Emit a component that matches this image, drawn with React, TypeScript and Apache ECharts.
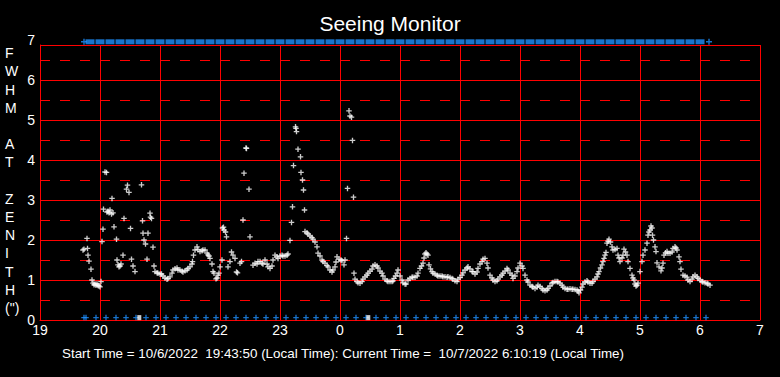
import React, { useEffect, useRef } from "react";
import * as echarts from "echarts";

// x positions are minutes after 19:00 local time
const xTickHours = [19, 20, 21, 22, 23, 0, 1, 2, 3, 4, 5, 6, 7];
const yTickLabels = ["0", "1", "2", "3", "4", "5", "6", "7"];
const yTitleLetters = ["F", "W", "H", "M", " ", "A", "T", " ", "Z", "E", "N", "I", "T", "H", "(\")"];

const seeingMinute = [
  43, 44, 47, 47.5, 48, 49, 51, 52, 53, 54, 55, 56, 57, 58, 59, 60, 61, 62, 63, 63.5, 65, 66.5, 67, 68, 69, 70, 71.5, 72, 73, 74,
  76.5, 77, 78, 79, 80, 81, 83, 84, 86.5, 87.5, 89, 90.5, 91.5, 93, 95, 101.5, 102.5, 103, 104, 105.5, 107, 108, 110, 110.5, 111.5, 113, 114, 115,
  117, 118, 120, 121.5, 123, 125, 127, 128, 130, 132, 133, 135, 137, 138, 140, 142, 143, 145, 147, 148, 150, 152, 152.5, 153.5, 155, 157, 158,
  160, 162, 163, 165, 167, 168, 169, 170, 172, 173, 174, 176, 177, 178, 179, 180, 182, 182.5, 183.5, 184, 185.5, 186.5, 188, 190, 191.5, 193,
  195, 196.5, 197.5, 200, 201.5, 203, 204, 206, 206.5, 209, 210, 213, 215, 217, 218, 220, 222, 223, 225, 227, 228, 230, 232, 233, 235, 237,
  238, 240, 242, 243, 245, 247, 248, 250, 251.5, 252.5, 253.5, 255.5, 256, 256.5, 258, 260.5, 261, 262.5, 263.5, 264.5, 265, 267, 268, 270,
  272, 273, 275, 277, 278, 280, 282, 283, 285, 287, 288, 290, 292, 293, 295, 296, 297, 299, 301, 302, 304, 305, 306.5, 307.5, 309, 310, 311.5,
  312.5, 313.5, 314, 315, 317, 318, 320, 322, 323, 325, 327, 328, 330, 332, 333, 335, 337, 338, 340, 342, 343, 345, 347, 348, 350, 352, 353,
  354, 355.5, 357, 358, 360, 362, 363, 365, 366, 368, 370, 372, 373, 375, 377, 378, 380, 381.5, 383, 384, 385, 386, 387, 388, 389, 390.5, 392,
  393, 395, 397, 398, 400, 402, 403, 405, 407, 408, 410, 412, 413, 415, 417, 418, 420, 422, 423, 425, 427, 428, 430, 432, 433, 435, 437, 438,
  440, 442, 443, 445, 447, 448, 450, 452, 453, 455, 457, 458, 460, 462, 463, 465, 467, 468, 470, 472, 473, 475, 477, 478, 480, 482, 483, 485,
  487, 488, 490, 492, 493, 495, 497, 498, 500, 502, 503, 505, 507, 508, 510, 512, 513, 515, 517, 518, 520, 522, 523, 525, 527, 528, 530, 532,
  533, 535, 537, 538, 539, 540.5, 542, 543, 545, 547, 548, 550, 552, 553, 555, 557, 558, 559, 560.5, 562, 563, 564, 565, 566, 567, 568, 569,
  570.5, 572, 573, 575, 577, 578, 579, 580, 582, 583, 584, 585.5, 587, 588, 590, 592, 593, 594, 595, 596, 597, 598, 600, 602, 603, 605, 607,
  608, 609, 610, 611, 612, 612.5, 613.5, 615, 616, 617, 619, 621, 622, 623, 624, 625.5, 627, 628, 630, 632, 633, 635, 636, 637, 639, 640,
  641, 643, 645, 647, 648, 650, 652, 653, 655, 657, 658, 660, 662, 663, 665, 667, 668, 670,
];
const seeingFwhm = [
  1.75, 1.77, 2.04, 1.79, 1.62, 1.47, 1.27, 1.0, 0.92, 0.88, 0.9, 0.87, 0.9, 0.86, 0.85, 0.83, 0.96, 1.96, 2.27, 2.77, 3.7, 3.69, 2.7, 2.72, 2.68, 2.75, 2.65, 3.04, 2.68, 2.33,
  2.02, 1.5, 1.38, 1.33, 1.35, 1.4, 1.62, 2.54, 3.27, 3.37, 3.19, 2.29, 1.52, 1.35, 1.21, 3.38, 2.48, 2.17, 2.0, 1.9, 1.52, 2.17, 2.67, 2.57, 2.54, 1.82, 1.35, 1.21,
  1.18, 1.17, 1.15, 1.15, 1.1, 1.05, 1.02, 1.04, 1.08, 1.17, 1.25, 1.28, 1.3, 1.25, 1.25, 1.22, 1.2, 1.23, 1.25, 1.29, 1.33, 1.4, 1.46, 1.62, 1.75, 1.83, 1.76,
  1.71, 1.73, 1.75, 1.75, 1.67, 1.63, 1.6, 1.54, 1.4, 1.21, 1.17, 1.03, 1.05, 1.12, 1.17, 1.33, 1.5, 2.3, 2.32, 2.25, 2.2, 2.08, 1.33, 1.46, 1.7, 1.62,
  1.54, 1.2, 1.18, 1.42, 1.46, 2.5, 3.67, 4.3, 4.29, 3.27, 2.08, 1.37, 1.42, 1.4, 1.46, 1.46, 1.42, 1.4, 1.5, 1.4, 1.33, 1.29, 1.35, 1.5, 1.62, 1.58,
  1.54, 1.6, 1.62, 1.6, 1.6, 1.62, 1.65, 1.99, 2.44, 2.83, 3.86, 4.83, 4.79, 4.71, 4.27, 4.08, 3.69, 3.5, 3.25, 2.75, 2.21, 2.18, 2.15, 2.1,
  2.06, 2.02, 1.95, 1.83, 1.67, 1.6, 1.5, 1.46, 1.42, 1.36, 1.33, 1.25, 1.2, 1.25, 1.33, 1.45, 1.58, 1.52, 1.5, 1.48, 1.38, 1.5, 2.04, 3.29, 5.23, 5.1, 5.07,
  4.49, 3.07, 1.17, 1.02, 0.96, 0.93, 0.92, 0.96, 1.02, 1.08, 1.12, 1.17, 1.22, 1.27, 1.35, 1.38, 1.35, 1.3, 1.22, 1.17, 1.1, 1.02, 0.98, 0.96, 0.96, 0.96, 0.98,
  1.04, 1.1, 1.17, 1.25, 1.1, 1.0, 0.93, 0.9, 0.9, 1.0, 1.04, 1.07, 1.07, 1.07, 1.1, 1.17, 1.29, 1.35, 1.42, 1.55, 1.65, 1.68, 1.65, 1.62, 1.38, 1.28, 1.21,
  1.17, 1.15, 1.12, 1.1, 1.1, 1.1, 1.08, 1.08, 1.07, 1.08, 1.06, 1.04, 1.02, 0.98, 0.96, 1.02, 1.06, 1.12, 1.18, 1.25, 1.3, 1.33, 1.28, 1.21, 1.21, 1.15, 1.2, 1.29,
  1.4, 1.46, 1.52, 1.54, 1.42, 1.3, 1.12, 1.05, 1.0, 0.96, 0.98, 1.02, 1.08, 1.12, 1.17, 1.22, 1.29, 1.25, 1.17, 1.12, 1.04, 1.1, 1.21, 1.3, 1.42, 1.35, 1.29, 1.12,
  1.0, 0.95, 0.87, 0.84, 0.82, 0.79, 0.82, 0.87, 0.84, 0.79, 0.75, 0.73, 0.75, 0.79, 0.85, 0.92, 0.94, 0.96, 0.96, 0.95, 0.92, 0.87, 0.82, 0.79, 0.77, 0.77, 0.78, 0.77,
  0.77, 0.76, 0.75, 0.72, 0.68, 0.75, 0.82, 0.9, 0.95, 0.98, 0.95, 0.92, 0.92, 0.96, 1.02, 1.08, 1.15, 1.21, 1.3, 1.38, 1.46, 1.54, 1.62, 1.69, 1.92, 1.97, 2.02,
  1.95, 1.83, 1.75, 1.76, 1.79, 1.62, 1.55, 1.46, 1.55, 1.62, 1.77, 1.7, 1.62, 1.46, 1.29, 1.12, 1.05, 1.0, 0.9, 0.85, 0.87, 0.92, 1.21, 1.46, 1.62, 1.75, 1.92,
  2.12, 2.2, 2.25, 2.35, 2.3, 2.12, 2.0, 1.83, 1.71, 1.43, 1.33, 1.23, 1.3, 1.42, 1.62, 1.68, 1.71, 1.67, 1.67, 1.7, 1.79, 1.83, 1.8, 1.75, 1.58, 1.46,
  1.27, 1.12, 1.1, 1.07, 1.0, 0.96, 1.02, 1.08, 1.12, 1.08, 1.04, 1.0, 0.96, 0.95, 0.93, 0.92, 0.9, 0.87,
];

// blue status marks along the top edge (10-minute blocks) and start/current markers
const topBlockMinute = [
  50, 60, 70, 80, 90, 100, 110, 120, 130, 140, 150, 160, 170, 180, 190, 200, 210, 220, 230, 240, 250, 260, 270, 280, 290, 300, 310, 320,
  330, 340, 350, 360, 370, 380, 390, 400, 410, 420, 430, 440, 450, 460, 470, 480, 490, 500, 510, 520, 530, 540, 550, 560, 570, 580, 590,
  600, 610, 620, 630, 640, 650, 660,
];
const topPlusMinute = [44, 669];
const topRowValue = 6.955;

// blue plus marks along the bottom edge
const bottomPlusMinute = [
  44, 46, 56, 66, 76, 86, 96, 106, 116, 126, 136, 146, 156, 166, 176, 186, 196, 206, 216, 226, 236, 246, 256, 266, 276, 286, 296, 306,
  316, 326, 336, 346, 356, 366, 376, 386, 396, 406, 416, 426, 436, 446, 456, 466, 476, 486, 496, 506, 516, 526, 536, 546, 556, 566, 576,
  586, 596, 606, 616, 626, 636, 646, 656, 666,
];
const bottomRowValue = 0.06;
const whiteMarkMinute = [99.3, 328.3];

const PLUS = "path://M2.2,0L3.6,0L3.6,5.8L2.2,5.8ZM0,2.2L5.8,2.2L5.8,3.6L0,3.6Z";
const RED = "#FF0000";
const BLUE = "#1E90FF";
const FONT = "'Liberation Sans', Arial, Helvetica, sans-serif";

export default function App() {
  const ref = useRef<HTMLDivElement>(null);

  useEffect(() => {
    document.body.style.margin = "0";
    document.body.style.background = "#000";
    if (!ref.current) return;
    const chart = echarts.init(ref.current, undefined, { renderer: "svg" });

    const seeingData = seeingMinute.map((m, i) => [m, seeingFwhm[i]]);

    const option: any = {
      animation: false,
      backgroundColor: "#000000",
      title: {
        text: "Seeing Monitor",
        left: "center",
        top: 8,
        textStyle: { color: "#FFFFFF", fontSize: 21, fontWeight: "normal", fontFamily: FONT },
      },
      grid: [
        { left: 40, right: 20, top: 45, bottom: 57 },
        { left: 40, right: 20, top: 40, bottom: 57 },
      ],
      xAxis: [
        {
          gridIndex: 0,
          type: "value",
          min: 0,
          max: 720,
          interval: 60,
          axisLine: { show: true, lineStyle: { color: RED, width: 1 } },
          axisTick: { show: false },
          axisLabel: {
            color: "#FFFFFF",
            fontSize: 14,
            fontFamily: FONT,
            margin: 3,
            formatter: (v: number) => String(xTickHours[Math.round(v / 60)]),
          },
          splitLine: { show: true, lineStyle: { color: RED, width: 1 } },
        },
        { gridIndex: 1, type: "value", min: 0, max: 720, interval: 60, show: false },
      ],
      yAxis: [
        {
          gridIndex: 0,
          type: "value",
          min: 0,
          max: 6.875,
          interval: 1,
          axisLine: { show: true, lineStyle: { color: RED, width: 1 } },
          axisTick: { show: false },
          axisLabel: { show: false },
          splitLine: { show: true, lineStyle: { color: RED, width: 1 } },
        },
        {
          gridIndex: 1,
          type: "value",
          min: 0,
          max: 7,
          interval: 1,
          axisLine: { show: false },
          axisTick: { show: false },
          axisLabel: {
            color: "#FFFFFF",
            fontSize: 14,
            fontFamily: FONT,
            margin: 5,
            formatter: (v: number) => yTickLabels[Math.round(v)],
          },
          splitLine: { show: false },
          minorTick: { show: false, splitNumber: 2 },
          minorSplitLine: { show: true, lineStyle: { color: RED, width: 1, type: [10, 10] } },
        },
      ],
      graphic: [
        {
          type: "text",
          left: 5,
          top: 44,
          style: {
            text: yTitleLetters.join("\n"),
            fill: "#FFFFFF",
            font: `14px ${FONT}`,
            lineHeight: 18.2,
            align: "center",
            width: 16,
          },
        },
        {
          type: "text",
          left: 62,
          top: 347,
          style: {
            text: "Start Time = 10/6/2022  19:43:50 (Local Time): Current Time =  10/7/2022 6:10:19 (Local Time)",
            fill: "#FFFFFF",
            font: `13.4px ${FONT}`,
          },
        },
      ],
      series: [
        {
          type: "scatter",
          xAxisIndex: 1,
          yAxisIndex: 1,
          symbol: "rect",
          symbolSize: [9, 5],
          itemStyle: { color: BLUE },
          data: topBlockMinute.map((m) => [m, topRowValue]),
          silent: true,
          z: 3,
        },
        {
          type: "scatter",
          xAxisIndex: 1,
          yAxisIndex: 1,
          symbol: PLUS,
          symbolSize: 6,
          itemStyle: { color: BLUE },
          data: topPlusMinute.map((m) => [m, topRowValue]),
          silent: true,
          z: 3,
        },
        {
          type: "scatter",
          xAxisIndex: 1,
          yAxisIndex: 1,
          symbol: PLUS,
          symbolSize: 5.5,
          itemStyle: { color: BLUE },
          data: bottomPlusMinute.map((m) => [m, bottomRowValue]),
          silent: true,
          z: 3,
        },
        {
          type: "scatter",
          xAxisIndex: 1,
          yAxisIndex: 1,
          symbol: "rect",
          symbolSize: [4, 5],
          itemStyle: { color: "#FFFFFF" },
          data: whiteMarkMinute.map((m) => [m, bottomRowValue]),
          silent: true,
          z: 4,
        },
        {
          type: "scatter",
          xAxisIndex: 1,
          yAxisIndex: 1,
          symbol: PLUS,
          symbolSize: 5.5,
          itemStyle: { color: "#FFFFFF" },
          data: seeingData,
          silent: true,
          z: 5,
        },
      ],
    };

    chart.setOption(option);
    return () => chart.dispose();
  }, []);

  return <div ref={ref} style={{ width: 780, height: 377, background: "#000" }} />;
}
